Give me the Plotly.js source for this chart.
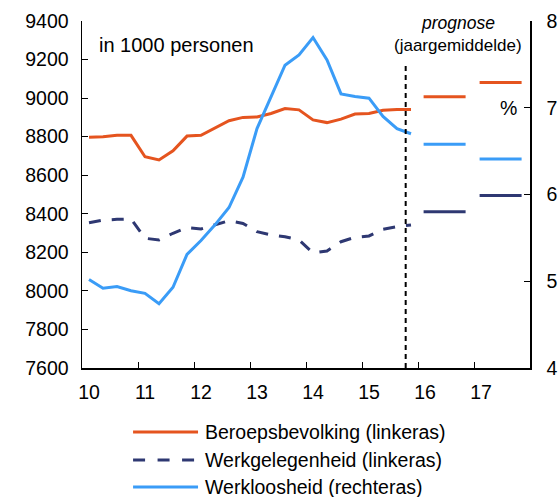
<!DOCTYPE html>
<html>
<head>
<meta charset="utf-8">
<script src="https://cdn.plot.ly/plotly-3.0.1.min.js"></script>
<style>
body { margin: 0; background: #fff; }
#chart { width: 560px; height: 497px; }
</style>
</head>
<body>
<div id="chart"></div>
<script>
// kwartaalcijfers 2010K1 t/m 2015K4
quarters = ['10K1','10K2','10K3','10K4','11K1','11K2','11K3','11K4',
            '12K1','12K2','12K3','12K4','13K1','13K2','13K3','13K4',
            '14K1','14K2','14K3','14K4','15K1','15K2','15K3','15K4']
beroepsbevolking = [8797, 8800, 8807, 8807, 8696, 8679, 8727, 8803,
                    8807, 8843, 8883, 8900, 8902, 8920, 8946, 8939,
                    8887, 8873, 8891, 8917, 8920, 8937, 8941, 8941]
werkgelegenheid = [8353, 8367, 8371, 8373, 8273, 8264, 8299, 8328,
                   8321, 8342, 8364, 8350, 8307, 8290, 8281, 8264,
                   8197, 8207, 8255, 8278, 8285, 8320, 8333, 8342]
werkloosheid = [5.02, 4.92, 4.94, 4.89, 4.86, 4.74, 4.93, 5.31,
                5.47, 5.65, 5.85, 6.20, 6.76, 7.13, 7.49, 7.61,
                7.81, 7.55, 7.16, 7.13, 7.11, 6.90, 6.76, 6.70]

// prognose (jaargemiddelde)
prognoseJaren = [16, 17]
prognoseBeroeps = [9007, 9081]
prognoseWerkgel = [8410, 8495]
prognoseWerkloos = [6.58, 6.41]

names = ['Beroepsbevolking (linkeras)', 'Werkgelegenheid (linkeras)', 'Werkloosheid (rechteras)']
colors = ['#E5541F', '#2E3872', '#3A9CF7']
prognoseGrens = 15.78

// kwartaal -> positie op de as (midden van het kwartaal)
function qpos(q) {
    var jaar = parseInt(q.slice(0, 2))
    var k = parseInt(q.slice(3))
    return jaar + (k - 0.5) / 4
}
X = quarters.map(qpos)

function prognoseLijn(vals) {
    px = []
    py = []
    for (var i = 0; i < prognoseJaren.length; i++) {
        px.push(prognoseJaren[i] + 0.1, prognoseJaren[i] + 0.85, null)
        py.push(vals[i], vals[i], null)
    }
    return {x: px, y: py}
}

var data = [
  {x: X, y: beroepsbevolking, mode: 'lines', name: names[0],
   line: {color: colors[0], width: 3}},
  {x: X, y: werkgelegenheid, mode: 'lines', name: names[1],
   line: {color: colors[1], width: 3, dash: '12px,11px'}},
  {x: X, y: werkloosheid, mode: 'lines', name: names[2], yaxis: 'y2',
   line: {color: colors[2], width: 3}}
]
var p1 = prognoseLijn(prognoseBeroeps)
var p2 = prognoseLijn(prognoseWerkgel)
var p3 = prognoseLijn(prognoseWerkloos)
data.push({x: p1.x, y: p1.y, mode: 'lines', line: {color: colors[0], width: 3}, showlegend: false})
data.push({x: p2.x, y: p2.y, mode: 'lines', line: {color: colors[1], width: 3}, showlegend: false})
data.push({x: p3.x, y: p3.y, mode: 'lines', yaxis: 'y2', line: {color: colors[2], width: 3}, showlegend: false})

// eigen legenda onder de grafiek
var shapes = [{
    type: 'line', xref: 'x', yref: 'paper', x0: prognoseGrens, x1: prognoseGrens, y0: 0, y1: 0.882,
    line: {color: '#000', width: 2, dash: '5px,4px'}
}]
var annotations = [
  {text: 'in 1000 personen', xref: 'paper', yref: 'paper', x: 0.034, y: 0.93,
   xanchor: 'left', yanchor: 'middle', showarrow: false, font: {size: 20}},
  {text: '<i>prognose</i>', xref: 'paper', yref: 'paper', x: 0.839, y: 0.993,
   xanchor: 'center', yanchor: 'middle', showarrow: false, font: {size: 17.5}},
  {text: '(jaargemiddelde)', xref: 'paper', yref: 'paper', x: 0.839, y: 0.93,
   xanchor: 'center', yanchor: 'middle', showarrow: false, font: {size: 17}},
  {text: '%', xref: 'paper', yref: 'paper', x: 0.951, y: 0.75,
   xanchor: 'center', yanchor: 'middle', showarrow: false, font: {size: 19.5}}
]
legY = [-0.1843, -0.2649, -0.3427]
for (var i = 0; i < names.length; i++) {
    shapes.push({type: 'line', xref: 'paper', yref: 'paper', x0: 0.114, x1: 0.259, y0: legY[i], y1: legY[i],
                 line: {color: colors[i], width: 3, dash: i == 1 ? '12px,12.5px' : 'solid'}})
    annotations.push({text: names[i], xref: 'paper', yref: 'paper', x: 0.270, y: legY[i],
                      xanchor: 'left', yanchor: 'middle', showarrow: false, font: {size: 19.5}})
}

var layout = {
  width: 560, height: 497,
  margin: {l: 82, r: 30, t: 21, b: 129},
  showlegend: false,
  font: {family: 'Liberation Sans, Arial, sans-serif', size: 19.5, color: '#000'},
  paper_bgcolor: '#fff', plot_bgcolor: '#fff',
  xaxis: {range: [10, 18], tickvals: [10, 11, 12, 13, 14, 15, 16, 17], ticks: 'inside', ticklen: 6,
          tickcolor: '#000', showline: true, linecolor: '#000', linewidth: 1.5,
          showgrid: false, zeroline: false, ticklabelshift: 7, ticklabelstandoff: 6},
  yaxis: {range: [7600, 9400], dtick: 200, ticks: 'inside', ticklen: 6, tickcolor: '#000',
          showline: true, linecolor: '#000', linewidth: 1.5, showgrid: false, zeroline: false,
          ticklabelstandoff: 8},
  yaxis2: {range: [4, 8], dtick: 1, overlaying: 'y', side: 'right', ticks: 'inside', ticklen: 6,
           tickcolor: '#000', showline: true, linecolor: '#000', linewidth: 1.5,
           showgrid: false, zeroline: false, ticklabelstandoff: 11},
  shapes: shapes,
  annotations: annotations
}

Plotly.newPlot('chart', data, layout, {displayModeBar: false, staticPlot: true})
</script>
</body>
</html>
